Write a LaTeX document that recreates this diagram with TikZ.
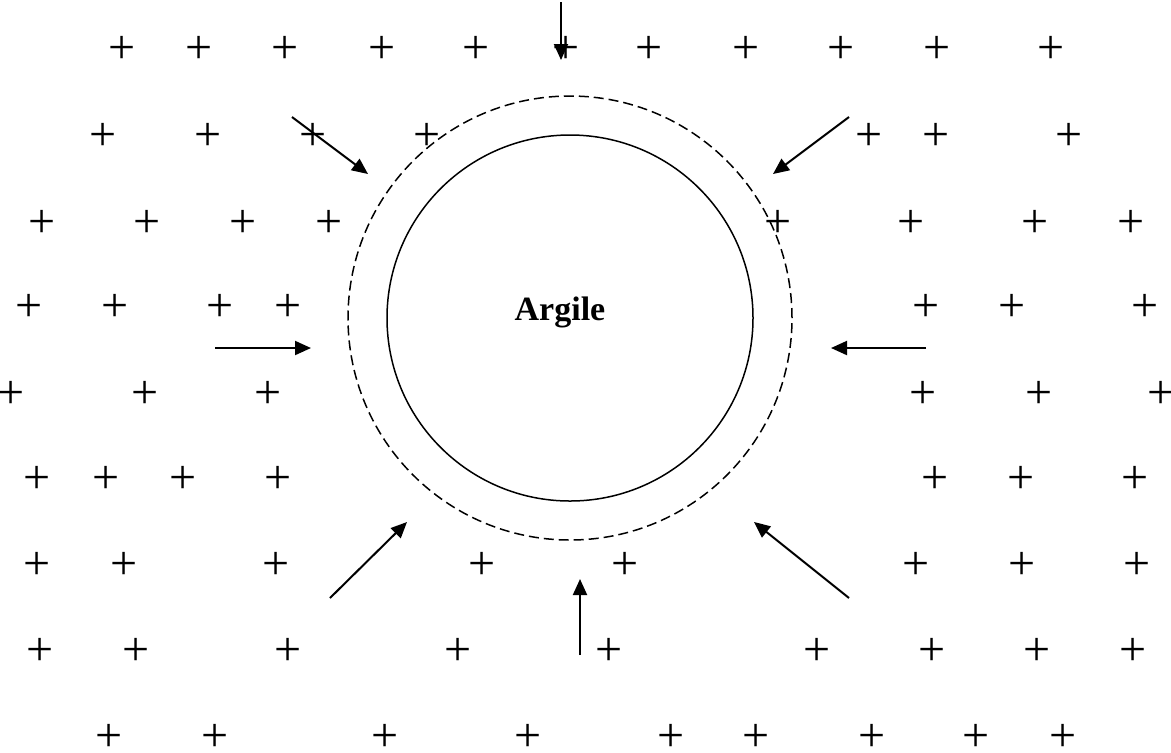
\documentclass[tikz,border=0pt]{standalone}
\usepackage{fontspec}
\setmainfont{Liberation Serif}
\usetikzlibrary{arrows.meta}
\begin{document}
\begin{tikzpicture}[x=0.5pt,y=-0.5pt,
  plussign/.style={inner sep=0pt, font=\fontsize{24}{24}\selectfont, text height=0.5em, text depth=0pt, anchor=base, yshift=-7.8pt},
  force/.style={line width=1pt,-{Triangle[length=8pt,width=7pt]}},
  claybox/.style={circle, draw, line width=0.75pt, inner sep=0pt},
  halo/.style={circle, draw, dashed, dash pattern=on 5pt off 2.5pt, line width=0.75pt, inner sep=0pt}]
\useasboundingbox (0,0) rectangle (1171,752);
\node[halo, minimum size=222pt] (halo) at (570,318) {};
\node[claybox, minimum size=183pt] (clay) at (570,318) {};
\node[anchor=base, font=\fontsize{17}{17}\selectfont\bfseries] (label) at (560,320) {Argile};
\foreach \yy/\xlist [count=\r] in {
  48/{122,199,285,382,476,566,649,746,841,937,1051},
  135/{103,208,313,427,869,936,1069},
  222/{42,147,243,329,778,911,1035,1131},
  306/{29,115,220,288,926,1012,1145},
  393/{11,145,268,923,1039,1161},
  478/{37,106,183,278,935,1021,1135},
  564/{37,124,276,482,625,916,1022,1137},
  650/{40,136,288,458,609,817,932,1037,1133},
  736/{109,215,385,528,671,756,872,976,1063}} {
  \foreach \xx [count=\c] in \xlist {
    \node[plussign] (p-\r-\c) at (\xx,\yy) {+};
  }
}
% arrow ends
\coordinate (tS) at (561,2);   \coordinate (tE) at (561,60);
\coordinate (nwS) at (292,117); \coordinate (nwE) at (368,174);
\coordinate (neS) at (849,117); \coordinate (neE) at (773,174);
\coordinate (lS) at (215,348); \coordinate (lE) at (311,348);
\coordinate (rS) at (926,348); \coordinate (rE) at (831,348);
\coordinate (swS) at (330,598); \coordinate (swE) at (407,522);
\coordinate (seS) at (849,598); \coordinate (seE) at (754,522);
\coordinate (bS) at (580,655); \coordinate (bE) at (580,579);
\draw[force] (tS) -- (tE);
\draw[force] (nwS) -- (nwE);
\draw[force] (neS) -- (neE);
\draw[force] (lS) -- (lE);
\draw[force] (rS) -- (rE);
\draw[force] (swS) -- (swE);
\draw[force] (seS) -- (seE);
\draw[force] (bS) -- (bE);
\end{tikzpicture}
\end{document}
